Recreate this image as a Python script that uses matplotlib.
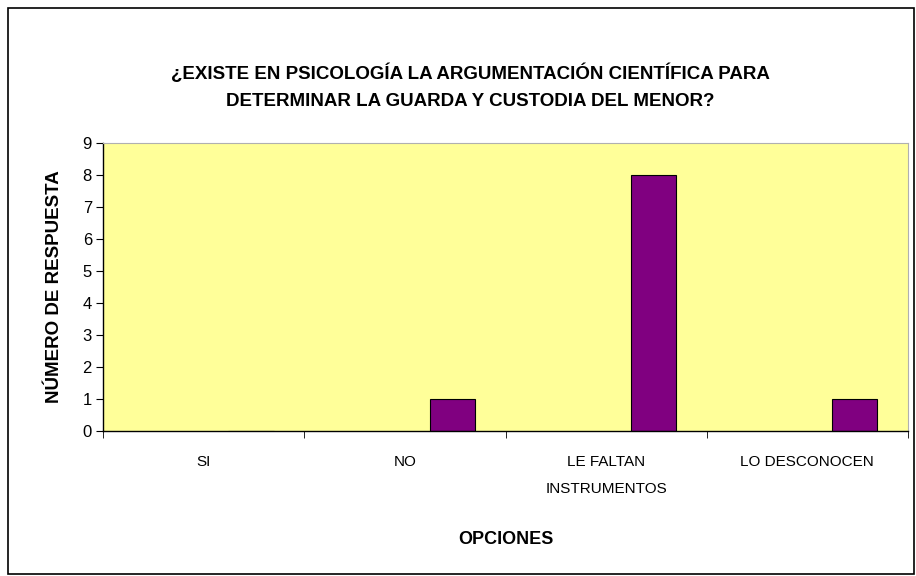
import matplotlib
matplotlib.use("Agg")
import matplotlib.pyplot as plt
from matplotlib.patches import Rectangle
import numpy as np

categories = ["SI", "NO", "LE FALTAN\nINSTRUMENTOS", "LO DESCONOCEN"]
values = [0, 1, 8, 1]
yticks = list(range(0, 10))

plt.rcParams['font.family'] = ['Liberation Sans', 'DejaVu Sans']

fig = plt.figure(figsize=(9.16, 5.76), dpi=100)
fig.patch.set_facecolor("white")
fig.patches.append(Rectangle((8/916, 2/576), 906/916, 566/576, transform=fig.transFigure,
                             fill=False, edgecolor="black", linewidth=1.2))

ax = fig.add_axes([103/916, 1 - 431/576, 805/916, 288/576])
ax.set_facecolor("#FFFF99")
x = np.arange(len(categories))
ax.bar(x + 0.235, values, width=0.225, color="#800080", edgecolor="black", linewidth=0.8)
ax.set_xlim(-0.5, len(categories) - 0.5)
ax.set_ylim(0, 9)
ax.set_yticks(yticks)
ax.set_yticklabels([str(t) for t in yticks], fontsize=12)
ax.set_xticks(x)
ax.set_xticklabels(categories, fontsize=11, linespacing=2.2)
ax.set_xticks(np.arange(len(categories) + 1) - 0.5, minor=True)
ax.tick_params(axis='x', which='major', length=0, pad=17)
ax.tick_params(axis='x', which='minor', length=5, direction='out', color='black')
ax.tick_params(axis='y', length=5, direction='out', color='black', pad=3)
for s in ["left", "bottom"]:
    ax.spines[s].set_color("black")
    ax.spines[s].set_linewidth(1.0)
for s in ["top", "right"]:
    ax.spines[s].set_color("#b0b0b0")
    ax.spines[s].set_linewidth(0.8)

ax.set_xlabel("OPCIONES", fontsize=13, fontweight="bold", labelpad=25)
ax.set_ylabel("NÚMERO DE RESPUESTA", fontsize=13.5, fontweight="bold", labelpad=14)

fig.text(470/916, 1 - 87/576,
         "¿EXISTE EN PSICOLOGÍA LA ARGUMENTACIÓN CIENTÍFICA PARA\nDETERMINAR LA GUARDA Y CUSTODIA DEL MENOR?",
         ha="center", va="center", fontsize=13.5, fontweight="bold", linespacing=1.75)

fig.savefig("out.png", dpi=100)
